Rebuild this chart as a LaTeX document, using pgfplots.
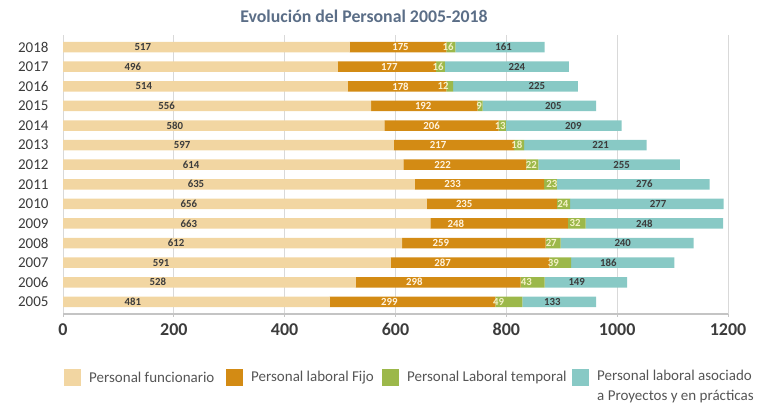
\documentclass[border=0pt]{standalone}
\usepackage{fontspec}
\setmainfont{Carlito}
\usepackage{pgfplots}
\usepackage{pgfplotstable}
\pgfplotsset{compat=1.18}

\definecolor{cFunc}{HTML}{F2D6A2}
\definecolor{cFijo}{HTML}{D38B14}
\definecolor{cTemp}{HTML}{9CB84A}
\definecolor{cProy}{HTML}{88C9C5}
\definecolor{cTitle}{HTML}{5B6E87}
\definecolor{cGrid}{HTML}{D9D9D9}
\definecolor{cAxis}{HTML}{C4C4C4}
\definecolor{cText}{HTML}{3C3C3C}
\definecolor{cLeg}{HTML}{555555}
\definecolor{cLight}{HTML}{FFF4E0}
\definecolor{cPale}{HTML}{F4F1C6}

% staff per year, plus where each value label sits along the bar
\pgfplotstableread{
idx year func fijo temp proy fx  jx  tx  px
0  2005 481 299 49 133 126 589 786 883
1  2006 528 298 43 149 171 634 836 927
2  2007 591 287 39 186 177 685 885 984
3  2008 612 259 27 240 204 682 881 1010
4  2009 663 248 32 248 227 709 924 1049
5  2010 656 235 24 277 227 724 902 1074
6  2011 635 233 23 276 240 703 882 1049
7  2012 614 222 22 255 231 685 845 1008
8  2013 597 217 18 221 215 677 819 970
9  2014 580 206 13 209 202 665 789 921
10 2015 556 192  9 205 187 650 751 885
11 2016 514 178 12 225 146 609 686 855
12 2017 496 177 16 224 126 589 677 819
13 2018 517 175 16 161 144 609 695 795
}\personal

\pgfplotsset{
  base/.style={
    scale only axis, width=665bp, height=279bp,
    at={(63bp,102bp)}, anchor=south west,
    xmin=0, xmax=1200, ymin=-0.62, ymax=13.62,
  },
  lbl/.style={draw=none, mark=none, nodes near coords,
    point meta=explicit symbolic,
    every node near coord/.append style={anchor=center, inner sep=0pt,
      font=\fontsize{10.8bp}{12bp}\selectfont\bfseries, text=#1}},
}

\begin{document}
\begin{tikzpicture}
\path[use as bounding box] (0,0) rectangle (770bp,416bp);

\begin{axis}[base,
  xbar stacked, bar width=10.5bp,
  axis x line*=bottom, axis y line*=left,
  y axis line style={draw=none},
  x axis line style={draw=cAxis, line width=1.3bp},
  xtick={0,200,...,1200},
  xticklabels={\textbf{0},\textbf{200},\textbf{400},\textbf{600},\textbf{800},\textbf{1000},\textbf{1200}},
  xmajorgrids, grid style={draw=cGrid, line width=0.8bp},
  tick align=outside, major tick length=3bp,
  xtick style={draw=cAxis, line width=1bp},
  ytick style={draw=none},
  ytick={0,...,13},
  yticklabels={2005,2006,2007,2008,2009,2010,2011,2012,2013,2014,2015,2016,2017,2018},
  xticklabel style={font=\fontsize{18bp}{20bp}\selectfont, text=cText, yshift=-3bp},
  yticklabel style={font=\fontsize{15bp}{17bp}\selectfont, text=cText, xshift=-8bp},
]
\addplot[fill=cFunc, draw=none] table[x=func, y=idx] {\personal};
\addplot[fill=cFijo, draw=none] table[x=fijo, y=idx] {\personal};
\addplot[fill=cTemp, draw=none] table[x=temp, y=idx] {\personal};
\addplot[fill=cProy, draw=none] table[x=proy, y=idx] {\personal};
\end{axis}

% value labels
\begin{axis}[base, hide axis, clip=false]
\addplot[lbl=cText]  table[x=fx, y=idx, meta=func] {\personal};
\addplot[lbl=cLight] table[x=jx, y=idx, meta=fijo] {\personal};
\addplot[lbl=cPale]  table[x=tx, y=idx, meta=temp] {\personal};
\addplot[lbl=cText]  table[x=px, y=idx, meta=proy] {\personal};
\end{axis}

% title
\node[font=\fontsize{17.8bp}{19bp}\selectfont\bfseries, text=cTitle]
  at (364bp,400bp) {Evolución del Personal 2005-2018};

% legend
\begin{scope}[every node/.style={font=\fontsize{15bp}{20bp}\selectfont, text=cLeg, anchor=west, inner sep=0pt}]
\fill[cFunc] (64bp,30bp) rectangle ++(17bp,17bp);
\node at (89bp,38.5bp) {Personal funcionario};
\fill[cFijo] (226bp,30bp) rectangle ++(17bp,17bp);
\node at (251bp,38.5bp) {Personal laboral Fijo};
\fill[cTemp] (382bp,30bp) rectangle ++(17bp,17bp);
\node at (407bp,38.5bp) {Personal Laboral temporal};
\fill[cProy] (572bp,30bp) rectangle ++(17bp,17bp);
\node[anchor=north west, align=left] at (597bp,46bp) {Personal laboral asociado\\a Proyectos y en prácticas};
\end{scope}
\end{tikzpicture}
\end{document}
